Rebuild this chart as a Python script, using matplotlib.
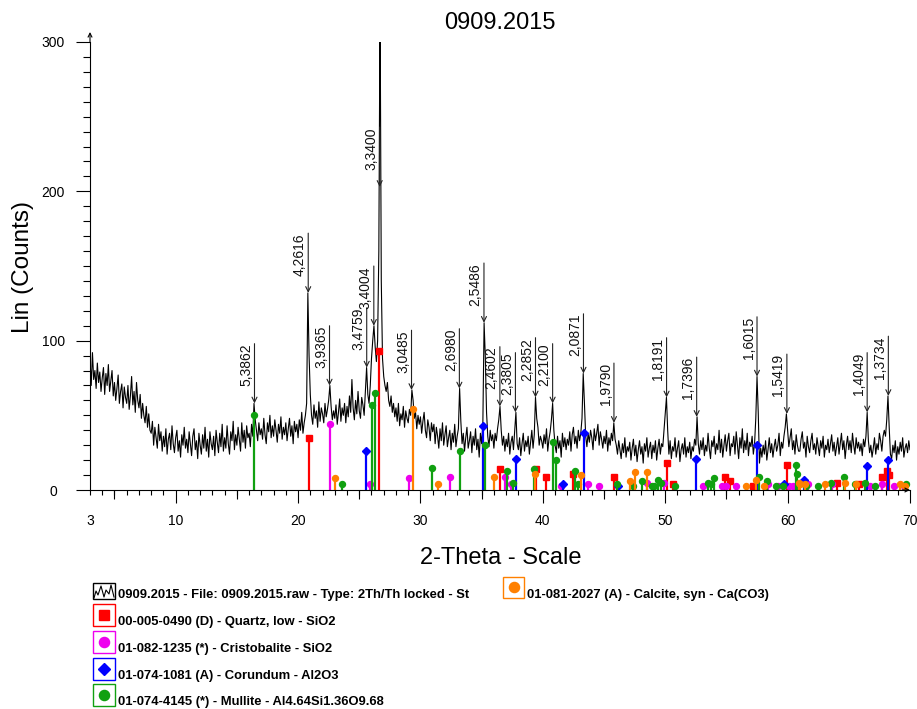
import numpy as np
import matplotlib
matplotlib.use("Agg")
import matplotlib.pyplot as plt
from matplotlib.patches import Rectangle
from matplotlib.lines import Line2D
from matplotlib.ticker import MultipleLocator

plt.rcParams['font.family'] = ['Liberation Sans', 'DejaVu Sans']

# measured pattern, 2-theta 3..70 step 0.1 (one row per degree)
counts = [
    88, 70, 92, 74, 80, 68, 85, 72, 79, 66,
    75, 82, 64, 78, 70, 84, 66, 73, 80, 63,
    72, 60, 68, 77, 58, 66, 71, 55, 69, 62,
    58, 70, 54, 63, 76, 57, 66, 52, 72, 60,
    55, 64, 48, 58, 50, 45, 56, 42, 51, 40,
    38, 46, 30, 42, 35, 28, 44, 33, 39, 26,
    36, 29, 41, 24, 34, 38, 27, 43, 31, 25,
    35, 40, 26, 33, 22, 37, 30, 42, 28, 34,
    25, 39, 31, 23, 36, 41, 27, 33, 21, 38,
    30, 24, 37, 28, 42, 26, 34, 22, 39, 31,
    27, 36, 23, 40, 32, 25, 38, 29, 44, 26,
    35, 28, 43, 31, 24, 39, 33, 46, 27, 37,
    30, 42, 34, 26, 45, 32, 40, 28, 43, 35,
    38, 29, 44, 36, 58, 47, 40, 33, 45, 37,
    41, 34, 48, 37, 31, 45, 39, 50, 35, 43,
    36, 47, 40, 32, 44, 38, 49, 34, 42, 37,
    45, 33, 41, 48, 36, 43, 31, 46, 39, 44,
    35, 47, 40, 52, 38, 45, 50, 58, 132, 90,
    64, 50, 44, 57, 48, 53, 42, 59, 46, 55,
    51, 45, 58, 49, 54, 60, 70, 56, 47, 53,
    48, 57, 44, 52, 61, 46, 55, 50, 58, 45,
    56, 49, 63, 52, 74, 55, 47, 60, 51, 66,
    53, 48, 62, 57, 50, 66, 82, 64, 58, 70,
    88, 100, 110, 96, 86, 100, 160, 330, 140, 88,
    76, 70, 66, 72, 60, 56, 63, 52, 58, 49,
    55, 46, 58, 43, 51, 47, 56, 42, 53, 48,
    45, 54, 50, 67, 60, 48, 52, 41, 50, 44,
    49, 38, 46, 52, 40, 35, 47, 42, 33, 45,
    39, 44, 31, 42, 36, 28, 41, 33, 45, 30,
    37, 43, 29, 35, 40, 27, 38, 32, 44, 29,
    36, 41, 68, 46, 31, 38, 26, 35, 42, 28,
    33, 39, 25, 36, 30, 41, 27, 34, 22, 38,
    31, 45, 112, 89, 52, 36, 29, 40, 33, 37,
    28, 38, 33, 41, 47, 56, 40, 30, 36, 26,
    34, 29, 38, 24, 32, 36, 27, 40, 52, 31,
    27, 35, 23, 31, 38, 26, 33, 29, 36, 24,
    32, 40, 28, 37, 62, 48, 42, 30, 36, 33,
    28, 37, 31, 41, 26, 34, 39, 47, 58, 40,
    30, 25, 36, 28, 33, 22, 38, 29, 35, 27,
    34, 30, 39, 26, 37, 42, 31, 36, 28, 40,
    33, 38, 48, 78, 58, 36, 29, 38, 32, 40,
    35, 27, 41, 33, 38, 44, 30, 39, 34, 28,
    36, 31, 40, 26, 35, 30, 38, 33, 45, 34,
    30, 24, 33, 27, 21, 31, 25, 35, 22, 29,
    26, 32, 20, 28, 34, 23, 30, 19, 27, 33,
    24, 29, 18, 31, 26, 35, 22, 28, 32, 21,
    30, 25, 33, 20, 28, 34, 24, 31, 29, 40,
    52, 62, 40, 24, 33, 21, 29, 26, 35, 22,
    28, 33, 19, 27, 31, 24, 35, 22, 29, 25,
    32, 21, 29, 26, 34, 30, 49, 31, 24, 33,
    27, 35, 23, 30, 26, 38, 28, 21, 33, 29,
    36, 24, 31, 27, 40, 25, 34, 22, 30, 37,
    26, 33, 38, 23, 31, 29, 36, 24, 39, 30,
    21, 35, 28, 41, 25, 33, 27, 38, 23, 32,
    29, 36, 24, 31, 48, 76, 52, 18, 28, 22,
    30, 24, 33, 20, 27, 35, 25, 31, 22, 29,
    34, 26, 30, 38, 23, 32, 28, 36, 42, 51,
    40, 29, 35, 41, 27, 33, 24, 37, 30, 26,
    26, 34, 39, 28, 32, 22, 36, 29, 25, 33,
    38, 27, 31, 24, 35, 29, 23, 33, 28, 36,
    22, 30, 27, 34, 25, 31, 37, 26, 32, 23,
    29, 35, 24, 31, 38, 27, 33, 21, 30, 36,
    27, 33, 25, 38, 30, 24, 35, 28, 32, 26,
    31, 23, 34, 29, 36, 52, 33, 25, 30, 22,
    28, 35, 24, 31, 27, 38, 33, 26, 36, 40,
    36, 47, 63, 42, 24, 21, 30, 25, 33, 20,
    29, 24, 32, 26, 35, 22, 28, 31, 25, 33,
    27,
]
two_theta = np.round(3.0 + 0.1 * np.arange(len(counts)), 2)

# reference patterns (stick position, intensity in counts)
quartz_pos = [20.86, 26.64, 36.54, 39.46, 40.29, 42.45, 45.8, 50.14, 50.6, 54.87,
              55.33, 57.2, 59.96, 64.0, 65.8, 67.74, 68.14, 68.3]
quartz_int = [35, 93, 14, 14, 9, 11, 9, 18, 4, 9, 6, 3, 17, 5, 4, 9, 13, 10]

cristo_pos = [22.6, 25.9, 29.1, 32.4, 36.9, 37.4, 41.45, 43.7, 44.6, 48.5, 49.9, 53.1,
              54.6, 55.0, 55.8, 58.4, 59.2, 60.1, 60.45, 61.7, 63.6, 66.7, 67.7, 68.7, 69.5]
cristo_int = [44, 4, 8, 9, 9, 4, 3, 4, 3, 5, 5, 3, 3, 3, 3, 4, 3, 3, 3, 4, 4, 3, 4, 3, 3]

corund_pos = [25.58, 35.15, 37.78, 41.68, 43.36, 46.18, 52.55, 57.5, 59.74, 61.3, 66.52, 68.21]
corund_int = [26, 43, 21, 4, 38, 3, 21, 30, 4, 7, 16, 20]

mullite_pos = [16.43, 23.6, 26.07, 26.27, 30.96, 33.23, 35.27, 37.1, 37.55, 39.3, 40.87,
               41.07, 42.6, 42.9, 46.07, 47.35, 48.07, 48.94, 49.1, 49.45, 49.65, 50.8,
               53.5, 53.7, 54.0, 57.65, 58.3, 59.05, 59.65, 60.7, 60.8, 61.5, 62.5, 63.54,
               64.57, 65.5, 66.33, 67.1, 69.7]
mullite_int = [50, 4, 57, 65, 15, 26, 30, 13, 5, 14, 32, 20, 13, 4, 4, 3, 6, 3, 3, 7, 5, 3,
               5, 4, 8, 9, 6, 3, 3, 17, 11, 3, 3, 5, 9, 4, 5, 3, 4]

calcite_pos = [23.05, 29.4, 31.42, 35.97, 39.4, 43.15, 47.1, 47.5, 48.5, 56.6, 57.4, 58.1,
               60.9, 61.05, 61.4, 63.07, 64.68, 65.6, 69.2, 69.6]
calcite_int = [8, 54, 4, 9, 11, 10, 6, 12, 12, 3, 7, 3, 5, 4, 4, 4, 5, 4, 4, 3]

# labelled peaks (d-spacing)
peak_pos = [16.44, 20.83, 22.57, 25.61, 26.19, 26.67, 29.27, 33.18, 35.19, 36.49, 37.76,
            39.40, 40.80, 43.32, 45.81, 50.11, 52.57, 57.50, 59.94, 66.50, 68.23]
peak_cnt = [58, 132, 70, 82, 110, 203, 67, 68, 112, 56, 52, 62, 58, 78, 45, 62, 49, 76, 51, 52, 63]
peak_lbl = ["5,3862", "4,2616", "3,9365", "3,4759", "3,4004", "3,3400", "3,0485", "2,6980",
            "2,5486", "2,4602", "2,3805", "2,2852", "2,2100", "2,0871", "1,9790", "1,8191",
            "1,7396", "1,6015", "1,5419", "1,4049", "1,3734"]

legend_labels = [
    "0909.2015 - File: 0909.2015.raw - Type: 2Th/Th locked - St",
    "00-005-0490 (D) - Quartz, low - SiO2",
    "01-082-1235 (*) - Cristobalite - SiO2",
    "01-074-1081 (A) - Corundum - Al2O3",
    "01-074-4145 (*) - Mullite - Al4.64Si1.36O9.68",
    "01-081-2027 (A) - Calcite, syn - Ca(CO3)",
]

W, H = 917, 709
fig = plt.figure(figsize=(W / 100, H / 100), dpi=100)
ax = fig.add_axes([90 / W, (H - 490) / H, 820 / W, 448 / H])

ax.plot(two_theta, counts, color='black', lw=0.8)

phases = [
    (quartz_pos, quartz_int, '#ff0000', 's', 4.3),
    (cristo_pos, cristo_int, '#ee00ee', 'o', 4.3),
    (corund_pos, corund_int, '#0000ff', 'D', 3.6),
    (mullite_pos, mullite_int, '#10a010', 'o', 4.3),
    (calcite_pos, calcite_int, '#ff8000', 'o', 4.3),
]
for pos, inten, col, mk, ms in phases:
    ax.vlines(pos, 0, inten, color=col, lw=1.6)
    ax.plot(pos, inten, ls='none', marker=mk, ms=ms, color=col, mec=col)

for x, y, lbl in zip(peak_pos, peak_cnt, peak_lbl):
    ax.annotate('', xy=(x, y), xytext=(0, 43), textcoords='offset points',
                arrowprops=dict(arrowstyle='->', lw=0.8, color='#222222',
                                shrinkA=0, shrinkB=0, mutation_scale=9))
    ax.annotate(lbl, xy=(x, y), xytext=(-1, 43), textcoords='offset points',
                rotation=90, ha='right', va='top', fontsize=10, color='#111111')

ax.set_xlim(3, 70)
ax.set_ylim(0, 300)
for s in ['top', 'right']:
    ax.spines[s].set_visible(False)
for s in ['left', 'bottom']:
    ax.spines[s].set_linewidth(0.8)

ax.set_xticks([3, 10, 20, 30, 40, 50, 60, 70])
ax.xaxis.set_minor_locator(MultipleLocator(1))
ax.set_yticks([0, 100, 200, 300])
ax.yaxis.set_minor_locator(MultipleLocator(10))
ax.tick_params(axis='x', which='major', length=9.5, width=0.8, pad=8, labelsize=10)
ax.tick_params(axis='x', which='minor', length=3.6, width=0.8)
ax.tick_params(axis='y', which='major', length=10, width=0.8, pad=16.5, labelsize=10)
ax.tick_params(axis='y', which='minor', length=5, width=0.8)
for t in ax.get_yticklabels():
    t.set_horizontalalignment('center')
ax.xaxis.get_major_ticks()[0].tick1line.set_markersize(3.6)
# medium ticks every 5 degrees
mid_ticks = [5, 15, 25, 35, 45, 55, 65]
ax.vlines(mid_ticks, 0, -9 / 448, transform=ax.get_xaxis_transform(), clip_on=False,
          color='black', lw=0.8)

# axis arrows
ax.annotate('', xy=(0, 1 + 10 / 448), xytext=(0, 1), xycoords='axes fraction',
            arrowprops=dict(arrowstyle='->', lw=0.8, color='black', shrinkA=0, shrinkB=0,
                            mutation_scale=7))
ax.annotate('', xy=(1, 0), xytext=(1 - 8 / 820, 0), xycoords='axes fraction',
            arrowprops=dict(arrowstyle='->', lw=0.8, color='black', shrinkA=0, shrinkB=0,
                            mutation_scale=7))

fig.text(500 / W, 1 - 23 / H, "0909.2015", ha='center', va='center', fontsize=17)
fig.text(501 / W, 1 - 558 / H, "2-Theta - Scale", ha='center', va='center', fontsize=17)
fig.text(23 / W, 1 - 267 / H, "Lin (Counts)", ha='center', va='center', rotation=90, fontsize=17.5)


# legend, drawn in pixel positions
def fx(x):
    return x / W


def fy(y):
    return 1 - y / H


def box(x0, y0, w, h, col):
    fig.add_artist(Rectangle((fx(x0), fy(y0 + h)), w / W, h / H, transform=fig.transFigure,
                             fill=False, edgecolor=col, lw=1))


rows_y = [595, 622, 649, 676, 702]
# trace icon
box(93, rows_y[0] - 12, 22, 16, 'black')
zz_x = [94, 96, 98, 101, 104, 106, 109, 111, 114]
zz_y = [598, 591, 595, 586, 597, 590, 594, 585, 597]
fig.add_artist(Line2D([fx(v) for v in zz_x], [fy(v) for v in zz_y], transform=fig.transFigure,
                      color='black', lw=0.8))
fig.text(fx(118), fy(rows_y[0]), legend_labels[0], ha='left', va='center',
         fontsize=9.4, fontweight='bold')

for i, (pos, inten, col, mk, ms) in enumerate(phases[:4]):
    yc = rows_y[i + 1]
    box(93, yc - 18, 22, 22, col)
    fig.add_artist(Line2D([fx(104)], [fy(yc - 7)], transform=fig.transFigure, ls='none',
                          marker=mk, ms=ms + 3, color=col))
    fig.text(fx(118), fy(yc), legend_labels[i + 1], ha='left', va='center',
             fontsize=9.4, fontweight='bold')

col = phases[4][2]
box(503, rows_y[0] - 18, 21, 21, col)
fig.add_artist(Line2D([fx(513.5)], [fy(rows_y[0] - 8)], transform=fig.transFigure, ls='none',
                      marker='o', ms=7.3, color=col))
fig.text(fx(527), fy(rows_y[0]), legend_labels[5], ha='left', va='center',
         fontsize=9.4, fontweight='bold')

fig.savefig("out.png", dpi=100)
